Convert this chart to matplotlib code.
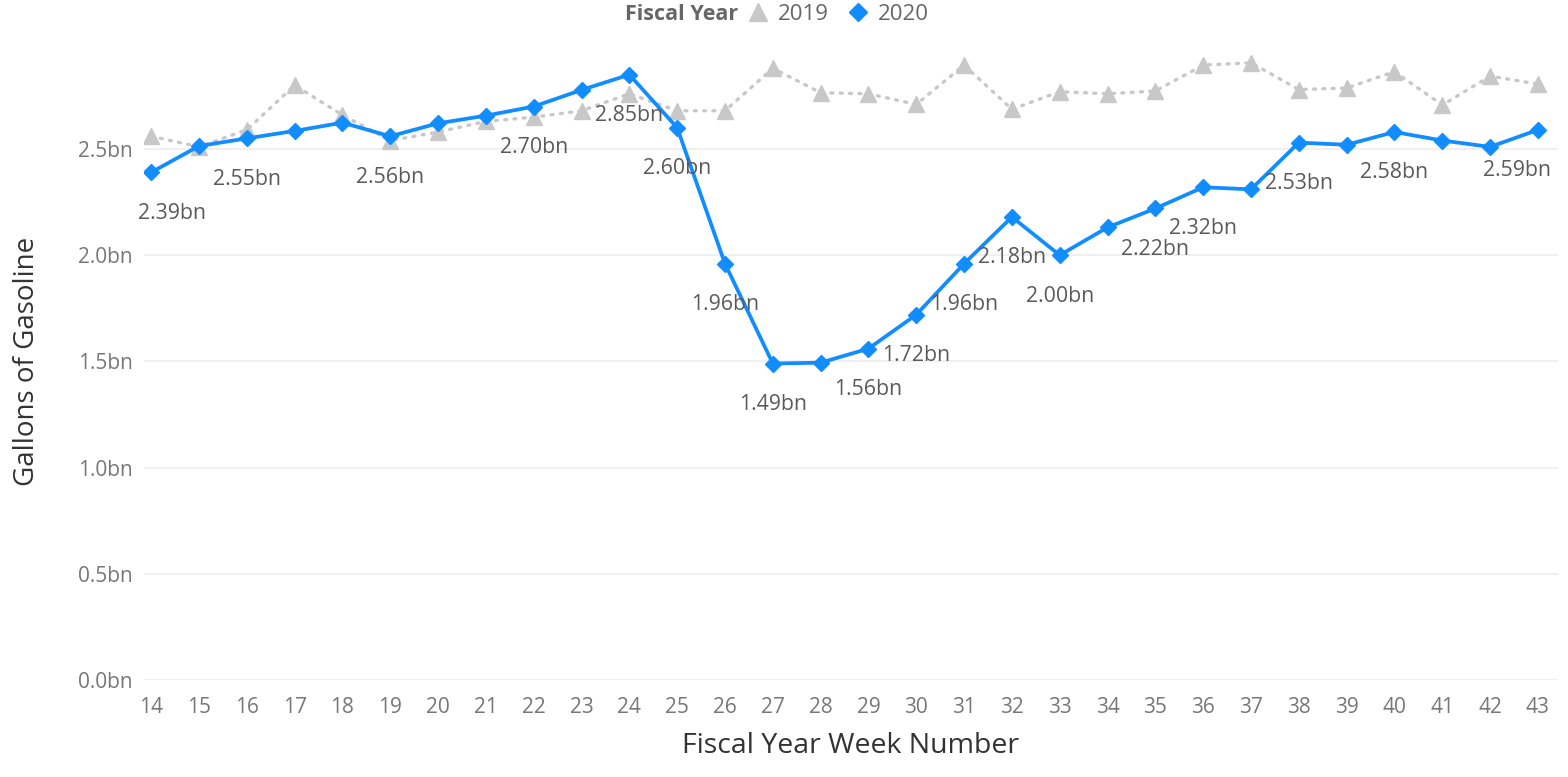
import matplotlib
matplotlib.use("Agg")
import matplotlib.pyplot as plt
from matplotlib.lines import Line2D

plt.rcParams['font.family'] = ['Open Sans', 'DejaVu Sans']

weeks = list(range(14, 44))
fy2019 = [2.56, 2.51, 2.59, 2.80, 2.66, 2.54, 2.58, 2.63, 2.65, 2.68,
          2.76, 2.68, 2.68, 2.88, 2.765, 2.76, 2.71, 2.895, 2.687, 2.77,
          2.76, 2.773, 2.895, 2.906, 2.78, 2.787, 2.864, 2.707, 2.843, 2.806]
fy2020 = [2.39, 2.514, 2.55, 2.585, 2.624, 2.56, 2.621, 2.657, 2.70, 2.778,
          2.85, 2.60, 1.96, 1.49, 1.494, 1.56, 1.72, 1.96, 2.18, 2.00,
          2.131, 2.22, 2.32, 2.31, 2.53, 2.52, 2.58, 2.54, 2.51, 2.59]
label_weeks = [14, 16, 19, 22, 24, 25, 26, 27, 29, 30, 31, 32, 33, 35, 36, 38, 40, 43]
yticks = [0.0, 0.5, 1.0, 1.5, 2.0, 2.5]
ytick_labels = ['0.0bn', '0.5bn', '1.0bn', '1.5bn', '2.0bn', '2.5bn']

c2019 = '#C8C8C8'
c2020 = '#118DFF'
tick_col = '#777777'
lab_col = '#5A5A5A'

fig = plt.figure(figsize=(15.68, 7.77), dpi=100)
ax = fig.add_axes([144/1568, 1-680/777, (1558-144)/1568, (680-42.8)/777])

ax.plot(weeks, fy2019, color=c2019, lw=2.4, linestyle=(0, (0.6, 2.2)),
        dash_capstyle='round', marker='^', ms=12, mec=c2019, mfc=c2019, zorder=2)
ax.plot(weeks, fy2020, color=c2020, lw=2.7, marker='D', ms=8.5,
        mec=c2020, mfc=c2020, zorder=3)

for w in label_weeks:
    v = fy2020[weeks.index(w)]
    dx = 0
    if w == weeks[0]:
        dx = 15
    elif w == weeks[-1]:
        dx = -15
    ax.annotate(f"{v:.2f}bn", (w, v), xytext=(dx, -29.5), textcoords='offset points',
                ha='center', va='center', fontsize=15.3, color=lab_col, zorder=4)

ax.set_xlim(13.85, 43.42)
ax.set_ylim(0, 3.0)
ax.set_xticks(weeks)
ax.set_xticklabels([str(w) for w in weeks])
ax.set_yticks(yticks)
ax.set_yticklabels(ytick_labels)
ax.tick_params(axis='both', length=0, labelsize=15, colors=tick_col)
ax.tick_params(axis='x', pad=12)
ax.tick_params(axis='y', pad=8)
ax.grid(axis='y', color='#EDEDED', lw=1.2)
ax.set_axisbelow(True)
for s in ax.spines.values():
    s.set_visible(False)

ax.set_xlabel('Fiscal Year Week Number', fontsize=20.5, color='#333333', labelpad=10)
ax.set_ylabel('Gallons of Gasoline', fontsize=20, color='#333333', labelpad=27)

fig.text(738/1568, 1-14/777, 'Fiscal Year', ha='right', va='center',
         fontsize=15.5, fontweight='bold', color='#666666')
handles = [Line2D([], [], linestyle='none', marker='^', ms=13, color=c2019),
           Line2D([], [], linestyle='none', marker='D', ms=9.5, color=c2020)]
fig.legend(handles, ['2019', '2020'], loc='center left',
           bbox_to_anchor=(748/1568, 1-14/777), ncol=2, frameon=False,
           handlelength=0.9, handletextpad=0.45, columnspacing=0.85,
           fontsize=16, labelcolor='#666666', borderaxespad=0, borderpad=0)

fig.savefig('out.png', dpi=100, facecolor='white')
